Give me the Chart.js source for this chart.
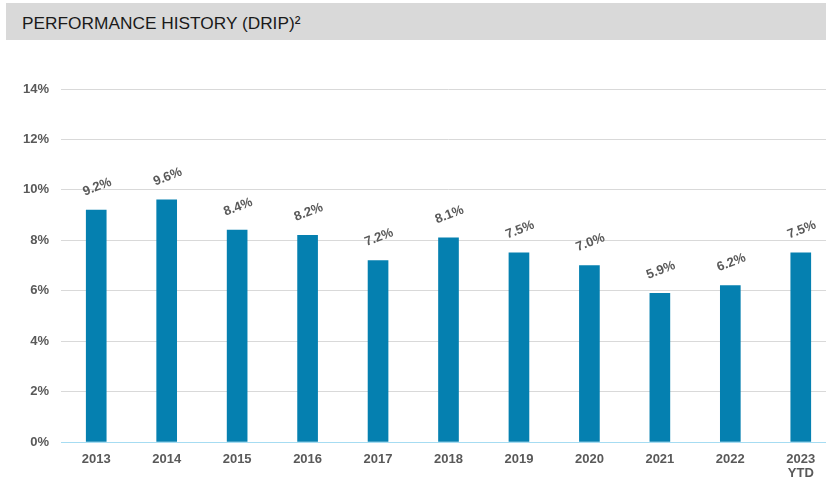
<!DOCTYPE html>
<html>
<head>
<meta charset="utf-8">
<script src="https://cdn.jsdelivr.net/npm/chart.js@4/dist/chart.umd.min.js"></script>
<style>
  html, body { margin: 0; padding: 0; background: #fff; overflow: hidden; width: 826px; height: 480px; }
  #title { position: absolute; left: 6px; top: 3px; width: 820px; height: 37px; background: #d9d9d9;
           font-family: "Liberation Sans", Arial, sans-serif; font-size: 17.3px; color: #1a1a1a;
           line-height: 41px; padding-left: 16px; box-sizing: border-box; }
  #wrap { position: absolute; left: 0; top: 0; width: 836px; height: 480px; }
</style>
</head>
<body>
<div id="title">PERFORMANCE HISTORY (DRIP)²</div>
<div id="wrap"><canvas id="perf"></canvas></div>
<script>
// performance by year
var years   = [['2013'], ['2014'], ['2015'], ['2016'], ['2017'], ['2018'], ['2019'], ['2020'], ['2021'], ['2022'], ['2023', 'YTD']];
var returns = [9.2, 9.6, 8.4, 8.2, 7.2, 8.1, 7.5, 7.0, 5.9, 6.2, 7.5];
var yTicks  = [0, 2, 4, 6, 8, 10, 12, 14];

// rotated value labels above the bars
var valueLabels = {
    id: 'valueLabels',
    afterDatasetsDraw: function(chart) {
        var ctx  = chart.ctx;
        var meta = chart.getDatasetMeta(0);
        ctx.save();
        ctx.font = 'bold 13px "Liberation Sans", Arial, sans-serif';
        ctx.fillStyle = '#595959';
        ctx.textAlign = 'center';
        ctx.textBaseline = 'middle';
        meta.data.forEach(function(bar, i) {
            ctx.save();
            ctx.translate(bar.x + 1, bar.y - 23);
            ctx.rotate(-21 * Math.PI / 180);
            ctx.fillText(returns[i].toFixed(1) + '%', 0, 0);
            ctx.restore();
        });
        ctx.restore();
    }
};

var ctx = document.getElementById('perf');
var chart = new Chart(ctx, {
    type: 'bar',
    data: {
        labels: years,
        datasets: [{
            data: returns,
            backgroundColor: '#0580b0',
            borderWidth: 0,
            barThickness: 20
        }]
    },
    options: {
        responsive: true,
        maintainAspectRatio: false,
        animation: false,
        layout: { padding: { top: 89, right: 0, left: 0, bottom: 0 } },
        plugins: { legend: { display: false }, tooltip: { enabled: false } },
        scales: {
            x: {
                grid: { display: false, drawTicks: false },
                border: { display: true, color: '#a6dcf2', width: 1 },
                ticks: {
                    color: '#595959',
                    padding: 11,
                    font: { family: '"Liberation Sans", Arial, sans-serif', size: 13, weight: 'bold', lineHeight: 1.05 }
                },
                afterFit: function(scale) { scale.height = 38; }
            },
            y: {
                min: 0,
                max: 14,
                afterBuildTicks: function(scale) {
                    scale.ticks = yTicks.map(function(v) { return { value: v }; });
                },
                grid: { color: '#d9d9d9', drawTicks: false },
                border: { display: false },
                ticks: {
                    color: '#595959',
                    padding: 12,
                    font: { family: '"Liberation Sans", Arial, sans-serif', size: 13, weight: 'bold' },
                    callback: function(v) { return v + '%'; }
                },
                afterFit: function(scale) { scale.width = 61; }
            }
        }
    },
    plugins: [valueLabels]
});
</script>
</body>
</html>
